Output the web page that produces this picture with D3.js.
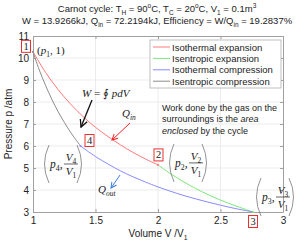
<!DOCTYPE html>
<html>
<head>
<meta charset="utf-8">
<script src="https://cdn.jsdelivr.net/npm/d3@7"></script>
<style>
body { margin: 0; background: #fff; }
text { font-family: "Liberation Sans", Arial, sans-serif; fill: #222; }
.math { font-family: "Liberation Serif", "Times New Roman", serif; }
</style>
</head>
<body>
<div id="chart"></div>
<script>
// Axis ticks
const xTicks = [1, 1.5, 2, 2.5, 3];
const yTicks = [3, 4, 5, 6, 7, 8, 9, 10, 11];

// Curves (V/V1, p in atm)
const isoExpV = [1, 1.1, 1.2, 1.3, 1.4, 1.5, 1.6, 1.7, 1.8, 1.9, 2.0];
const isoExpP = [10.28, 9.35, 8.57, 7.91, 7.34, 6.85, 6.43, 6.05, 5.71, 5.41, 5.14];
const adiExpV = [2.0, 2.1, 2.2, 2.3, 2.4, 2.5, 2.6, 2.7, 2.76];
const adiExpP = [5.14, 4.74, 4.39, 4.07, 3.79, 3.54, 3.32, 3.12, 3.0];
const isoCompV = [1.38, 1.5, 1.6, 1.7, 1.8, 1.9, 2.0, 2.2, 2.4, 2.6, 2.76];
const isoCompP = [6.0, 5.52, 5.18, 4.87, 4.6, 4.36, 4.14, 3.76, 3.45, 3.18, 3.0];
const adiCompV = [1.0, 1.05, 1.1, 1.15, 1.2, 1.25, 1.3, 1.38];
const adiCompP = [10.28, 9.46, 8.76, 8.13, 7.57, 7.08, 6.63, 6.0];

// State points 1..4
const stateLabels = ["1", "2", "3", "4"];
const stateV = [1, 2, 2.76, 1.38];
const stateP = [10.28, 5.14, 3.0, 6.0];

const legendLabels = ["Isothermal expansion", "Isentropic expansion", "Isothermal compression", "Isentropic compression"];
const seriesColors = ["#ff7a7a", "#7ae87a", "#8a8aff", "#8c8c8c"];

const width = 304, height = 242;
const margin = { top: 36, right: 21, bottom: 30, left: 33 };

const svg = d3.select("#chart").append("svg")
    .attr("width", width)
    .attr("height", height);

const x = d3.scaleLinear().domain([1, 3]).range([margin.left, width - margin.right]);
const y = d3.scaleLinear().domain([3, 11]).range([height - margin.bottom, margin.top]);

// Text with sub/superscripts: parts = [[text, 0 | 1 (sub) | -1 (sup), style], ...]
function richText(sel, px, py, parts, size, anchor, cls) {
    const t = sel.append("text")
        .attr("x", px).attr("y", py)
        .attr("text-anchor", anchor || "start")
        .style("font-size", size + "px");
    if (cls) t.attr("class", cls);
    let shift = 0;
    parts.forEach(([s, mode, style]) => {
        const target = mode === 1 ? size * 0.3 : mode === -1 ? -size * 0.4 : 0;
        const ts = t.append("tspan").attr("dy", target - shift).text(s);
        if (mode !== 0) ts.style("font-size", (size * 0.68) + "px");
        if (style) ts.style("font-style", style);
        shift = target;
    });
    return t;
}

// Grid
svg.append("g").selectAll("line").data(xTicks.slice(1, -1)).join("line")
    .attr("x1", d => x(d)).attr("x2", d => x(d))
    .attr("y1", y(3)).attr("y2", y(11))
    .attr("stroke", "#ececec");
svg.append("g").selectAll("line").data(yTicks.slice(1, -1)).join("line")
    .attr("x1", x(1)).attr("x2", x(3))
    .attr("y1", d => y(d)).attr("y2", d => y(d))
    .attr("stroke", "#ececec");

// Axes (MATLAB style box with inward ticks)
const axisColor = "#a0a0a0";
svg.append("g")
    .attr("transform", `translate(0,${y(3)})`)
    .call(d3.axisBottom(x).tickValues(xTicks).tickSizeInner(-3).tickSizeOuter(0).tickPadding(5).tickFormat(d3.format("")));
svg.append("g")
    .attr("transform", `translate(${x(1)},0)`)
    .call(d3.axisLeft(y).tickValues(yTicks).tickSizeInner(-3).tickSizeOuter(0).tickPadding(4));
svg.append("g")
    .attr("transform", `translate(0,${y(11)})`)
    .call(d3.axisTop(x).tickValues(xTicks).tickSizeInner(-3).tickSizeOuter(0).tickFormat(""));
svg.append("g")
    .attr("transform", `translate(${x(3)},0)`)
    .call(d3.axisRight(y).tickValues(yTicks).tickSizeInner(-3).tickSizeOuter(0).tickFormat(""));
svg.selectAll(".domain, .tick line").attr("stroke", axisColor);
svg.selectAll(".tick text").style("font-size", "10px").style("font-family", "Liberation Sans, Arial, sans-serif").attr("fill", "#222");

// Axis labels
richText(svg, (x(1) + x(3)) / 2, 237, [["Volume V /V", 0], ["1", 1]], 10, "middle");
svg.append("text")
    .attr("transform", `translate(12,${(y(3) + y(11)) / 2}) rotate(-90)`)
    .attr("text-anchor", "middle")
    .style("font-size", "10px")
    .text("Pressure p /atm");

// Title
richText(svg, 157, 12, [["Carnot cycle: T", 0], ["H", 1], [" = 90", 0], ["o", -1], ["C, T", 0], ["C", 1],
    [" = 20", 0], ["o", -1], ["C, V", 0], ["1", 1], [" = 0.1m", 0], ["3", -1]], 9.5, "middle");
richText(svg, 157, 24, [["W = 13.9266kJ, Q", 0], ["in", 1], [" = 72.2194kJ, Efficiency = W/Q", 0], ["in", 1],
    [" = 19.2837%", 0]], 9.5, "middle");

// Curves
const line = d3.line().x(d => x(d[0])).y(d => y(d[1])).curve(d3.curveCatmullRom);
const curves = [
    d3.zip(isoExpV, isoExpP),
    d3.zip(adiExpV, adiExpP),
    d3.zip(isoCompV, isoCompP),
    d3.zip(adiCompV, adiCompP)
];
svg.append("g").selectAll("path").data(curves).join("path")
    .attr("d", line)
    .attr("fill", "none")
    .attr("stroke", (d, i) => seriesColors[i])
    .attr("stroke-width", 1);

// State point dots
svg.append("g").selectAll("circle").data(stateV).join("circle")
    .attr("cx", d => x(d)).attr("cy", (d, i) => y(stateP[i]))
    .attr("r", 1.1)
    .attr("fill", (d, i) => seriesColors[(i + 3) % 4]);

// Numbered boxes
const boxOffsets = [[-7, -5.5], [0.5, -10], [0, 9.5], [9, -5.5]];
const boxes = svg.append("g").selectAll("g").data(stateLabels).join("g")
    .attr("transform", (d, i) => `translate(${x(stateV[i]) + boxOffsets[i][0]},${y(stateP[i]) + boxOffsets[i][1]})`);
boxes.append("rect")
    .attr("x", -4.5).attr("y", -6).attr("width", 9).attr("height", 12)
    .attr("fill", "#fff").attr("stroke", "#e83030").attr("stroke-width", 1);
boxes.append("text")
    .attr("class", "math")
    .attr("text-anchor", "middle")
    .attr("y", 3.5)
    .style("font-size", "10.5px")
    .text(d => d);

// (p1, 1)
richText(svg, x(1) + 4, y(stateP[0]) + 2, [["(", 0], ["p", 0, "italic"], ["1", 1], [", 1)", 0]], 11, "start", "math");

// (p_i, V_i/V_1) tuples
function drawTuple(cx, cy, idx) {
    const g = svg.append("g").attr("transform", `translate(${cx},${cy})`);
    g.append("path").attr("d", "M-14,-19 Q-23,0 -14,19")
        .attr("fill", "none").attr("stroke", "#777").attr("stroke-width", 0.8);
    g.append("path").attr("d", "M14,-19 Q23,0 14,19")
        .attr("fill", "none").attr("stroke", "#777").attr("stroke-width", 0.8);
    richText(g, -13, 4, [["p", 0, "italic"], [idx, 1], [",", 0]], 11.5, "start", "math");
    richText(g, 8, -3, [["V", 0, "italic"], [idx, 1]], 11, "middle", "math");
    g.append("line").attr("x1", 1).attr("x2", 15).attr("y1", 0).attr("y2", 0)
        .attr("stroke", "#222").attr("stroke-width", 0.7);
    richText(g, 8, 11, [["V", 0, "italic"], ["1", 1]], 11, "middle", "math");
}
const tupleOffsets = [null, [30, -2], [22, -15], [-17.5, 18]];
[1, 2, 3].forEach(i => drawTuple(x(stateV[i]) + tupleOffsets[i][0], y(stateP[i]) + tupleOffsets[i][1], stateLabels[i]));

// Arrows
const defs = svg.append("defs");
const arrowIds = ["black", "red", "blue"];
const arrowColors = ["#111", "#f02020", "#3f7ad8"];
arrowIds.forEach((id, i) => {
    defs.append("marker")
        .attr("id", "arr-" + id)
        .attr("viewBox", "0 0 10 10").attr("refX", 9).attr("refY", 5)
        .attr("markerWidth", 7).attr("markerHeight", 7)
        .attr("orient", "auto")
        .append("path").attr("d", "M1,1 L9,5 L1,9")
        .attr("fill", "none").attr("stroke", arrowColors[i]).attr("stroke-width", 1.4);
});
const arrowFrom = [[1.472, 8.09], [1.776, 7.045], [1.696, 4.68]];
const arrowTo = [[1.384, 6.86], [1.632, 6.27], [1.624, 4.09]];
svg.append("g").selectAll("line").data(arrowFrom).join("line")
    .attr("x1", d => x(d[0])).attr("y1", d => y(d[1]))
    .attr("x2", (d, i) => x(arrowTo[i][0])).attr("y2", (d, i) => y(arrowTo[i][1]))
    .attr("stroke", (d, i) => arrowColors[i])
    .attr("stroke-width", (d, i) => i === 0 ? 1.3 : 1)
    .attr("marker-end", (d, i) => `url(#arr-${arrowIds[i]})`);

// Math labels
richText(svg, x(1.392), y(8.23), [["W", 0, "italic"], [" = ", 0], ["\u222E", 0], [" pdV", 0, "italic"]], 11, "start", "math");
richText(svg, x(1.712), y(7.32), [["Q", 0, "italic"], ["in", 1, "italic"]], 11, "start", "math");
richText(svg, x(1.52), y(3.86), [["Q", 0, "italic"], ["out", 1, "italic"]], 11, "start", "math");

// Note text
const noteLines = [
    [["Work done by the gas on the", 0]],
    [["surroundings is the ", 0], ["area", 0, "italic"]],
    [["enclosed", 0, "italic"], [" by the cycle", 0]]
];
noteLines.forEach((parts, i) => richText(svg, 162, 111 + i * 11.3, parts, 9, "start"));

// Legend
const legend = svg.append("g").attr("transform", "translate(150,40)");
legend.append("rect").attr("width", 131).attr("height", 48)
    .attr("fill", "#fff").attr("stroke", "#b0b0b0").attr("stroke-width", 0.8);
const items = legend.selectAll("g").data(legendLabels).join("g")
    .attr("transform", (d, i) => `translate(0,${7 + i * 11.4})`);
items.append("line").attr("x1", 3).attr("x2", 20)
    .attr("stroke", (d, i) => seriesColors[i]).attr("stroke-width", 1);
items.append("text").attr("x", 22).attr("y", 3.5)
    .style("font-size", "9.5px").text(d => d);
</script>
</body>
</html>
